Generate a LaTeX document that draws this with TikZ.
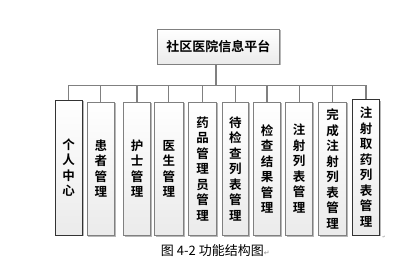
\documentclass[tikz,border=0pt]{standalone}
\usepackage{fontspec}
\newfontfamily\cjk{Noto Sans CJK SC}
\newfontfamily\cjkb{Noto Sans CJK SC Bold}
\newfontfamily\symf{DejaVu Sans}
\usetikzlibrary{shadows}
\tikzset{
  box/.style={draw=black!50, line width=0.9pt, top color=white, bottom color=black!8,
    drop shadow={shadow xshift=1.2pt, shadow yshift=-1.2pt, fill=black!35, opacity=0.8},
    inner sep=0pt, align=center, font=\cjkb\fontsize{12.5}{15.5}\selectfont},
  darkbox/.style={box, draw=black!80},
  conn/.style={draw=black!50, line width=1.1pt},
}
\begin{document}
\begin{tikzpicture}[x=1pt,y=1pt]
\useasboundingbox[fill=white] (0,0) rectangle (416,-270);
\node[box, minimum width=122pt, minimum height=35pt, font=\cjkb\fontsize{13}{15}\selectfont] (top) at (218.3,-46.8) {社区医院信息平台};
\coordinate (bus) at (216,-85.5);
\node[darkbox, minimum width=27.5pt, minimum height=135pt] (b1) at (68.75,-167.5) {个\\人\\中\\心};
\node[box, minimum width=27.5pt, minimum height=133.5pt] (b2) at (100.75,-168.75) {患\\者\\管\\理};
\node[box, minimum width=27.4pt, minimum height=133.5pt] (b3) at (137,-168.75) {护\\士\\管\\理};
\node[box, minimum width=29pt, minimum height=133.5pt] (b4) at (168.8,-168.75) {医\\生\\管\\理};
\node[box, minimum width=28.4pt, minimum height=133.5pt] (b5) at (202.5,-168.75) {药\\品\\管\\理\\员\\管\\理};
\node[box, minimum width=26pt, minimum height=133.5pt] (b6) at (235.3,-168.75) {待\\检\\查\\列\\表\\管\\理};
\node[box, minimum width=27.4pt, minimum height=133.5pt] (b7) at (267,-168.75) {检\\查\\结\\果\\管\\理};
\node[box, minimum width=27pt, minimum height=133.5pt] (b8) at (299.2,-168.75) {注\\射\\列\\表\\管\\理};
\node[box, minimum width=28.4pt, minimum height=133.5pt] (b9) at (332.5,-168.75) {完\\成\\注\\射\\列\\表\\管\\理};
\node[darkbox, minimum width=27pt, minimum height=135.5pt] (b10) at (366,-167.25) {注\\射\\取\\药\\列\\表\\管\\理};
\draw[conn] (top.south -| bus) -- (bus);
\foreach \i in {1,...,10} {\draw[conn] (bus) -| (b\i.north);}
\node[font=\cjk\fontsize{13}{15}\selectfont, inner sep=0pt, anchor=west] (cap) at (160.7,-251) {图\hspace{3pt}4-2\hspace{3pt}功能结构图{\symf\color{black!45}\fontsize{7}{8}\selectfont ↵}};
\node[font=\symf\fontsize{4}{5}\selectfont, text=black!45, inner sep=0pt] (pm) at (384,-237.5) {↵};
\end{tikzpicture}
\end{document}
